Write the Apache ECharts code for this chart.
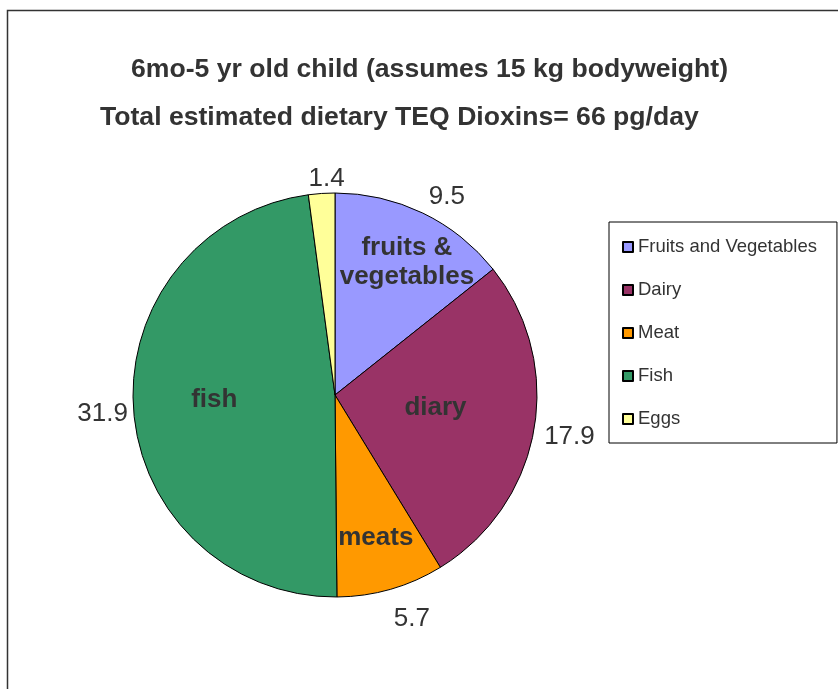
<!DOCTYPE html>
<html>
<head>
<meta charset="utf-8">
<title>Dietary TEQ Dioxins - 6mo-5 yr old child</title>
<script src="https://cdn.jsdelivr.net/npm/echarts@6/dist/echarts.min.js"></script>
<style>
  html, body { margin: 0; padding: 0; background: #fff; }
  #chart { width: 838px; height: 689px; }
</style>
</head>
<body>
<div id="chart"></div>
<script>
// data (pg/day)
const categories = ['Fruits and Vegetables', 'Dairy', 'Meat', 'Fish', 'Eggs']
const values = [9.5, 17.9, 5.7, 31.9, 1.4]
const sliceLabels = ['fruits &\nvegetables', 'diary', 'meats', 'fish', '']
const colors = ['#9999FF', '#993366', '#FF9900', '#339966', '#FFFF99']

const titleLines = [
  '6mo-5 yr old child (assumes 15 kg bodyweight)',
  'Total estimated dietary TEQ Dioxins= 66 pg/day'
]

// label nudges (px) so the text sits where it does in the original
const nameOffsets = [[28, -42], [1, -5], [13, 46], [-20, -2], [0, 0]]
const valueOffsets = [[11, 11], [6, 1], [13, 1], [-1, 2], [7, 15]]

const font = "'Liberation Sans', Arial, sans-serif"
const center = [335, 395]
const radius = 202
const clear = 'rgba(0,0,0,0)'

const chart = echarts.init(document.getElementById('chart'))

// transparent copy of the pie, only there to place one set of labels.
// echarts puts 'inner' labels at r/2 + 3px
function overlay(labelRadius, label, texts, offsets) {
  return {
    type: 'pie',
    center: center,
    radius: [0, labelRadius],
    startAngle: 90,
    silent: true,
    z: 3,
    emphasis: { disabled: true },
    itemStyle: { color: clear, borderWidth: 0 },
    labelLine: { show: false },
    data: categories.map((name, i) => ({
      name: name,
      value: values[i],
      label: Object.assign({}, label, {
        formatter: texts[i],
        offset: offsets[i]
      })
    }))
  }
}

chart.setOption({
  backgroundColor: '#fff',
  animation: false,
  title: [{
    text: titleLines[0],
    left: 131,
    top: 56,
    padding: 0,
    textStyle: { fontFamily: font, fontSize: 26.6, fontWeight: 'bold', color: '#333' }
  }, {
    text: titleLines[1],
    left: 100,
    top: 104,
    padding: 0,
    textStyle: { fontFamily: font, fontSize: 26.6, fontWeight: 'bold', color: '#333' }
  }],
  legend: {
    data: categories,
    orient: 'vertical',
    left: 609,
    top: 222,
    padding: [15, 20, 14, 13],
    itemGap: 23,
    itemWidth: 10,
    itemHeight: 10,
    icon: 'rect',
    borderColor: '#000',
    borderWidth: 1,
    selectedMode: false,
    textStyle: { fontFamily: font, fontSize: 18.5, lineHeight: 20, color: '#333' }
  },
  graphic: [{
    type: 'rect',
    shape: { x: 7.5, y: 10.5, width: 900, height: 800 },
    style: { fill: 'none', stroke: '#333', lineWidth: 1.5 },
    silent: true
  }],
  series: [{
    type: 'pie',
    center: center,
    radius: [0, radius],
    startAngle: 90,
    z: 2,
    label: { show: false },
    labelLine: { show: false },
    emphasis: { disabled: true },
    itemStyle: { borderColor: '#000', borderWidth: 1 },
    data: categories.map((name, i) => ({
      name: name,
      value: values[i],
      itemStyle: { color: colors[i] }
    }))
  },
  overlay(196, {
    position: 'inner',
    fontFamily: font,
    fontSize: 26,
    fontWeight: 'bold',
    lineHeight: 29,
    color: '#333'
  }, sliceLabels, nameOffsets),
  overlay(458, {
    position: 'inner',
    fontFamily: font,
    fontSize: 26,
    color: '#333'
  }, values.map(v => String(v)), valueOffsets)]
})
</script>
</body>
</html>
